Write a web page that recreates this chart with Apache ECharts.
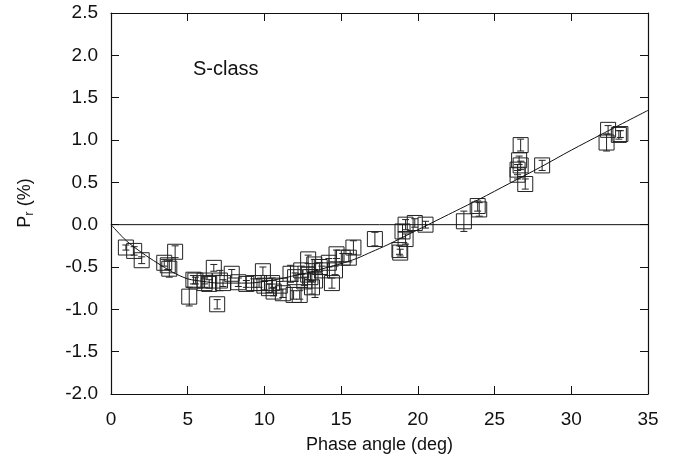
<!DOCTYPE html>
<html>
<head>
<meta charset="utf-8">
<script src="https://cdn.jsdelivr.net/npm/echarts@6/dist/echarts.min.js"></script>
<style>
  html, body { margin: 0; padding: 0; background: #fff; }
  #chart { width: 685px; height: 461px; }
</style>
</head>
<body>
<div id="chart"></div>
<script>
const angle = [
  0.97, 1.51, 2.0, 4.18, 3.47, 3.7, 3.8, 5.37, 5.1, 5.5,
  6.1, 6.7, 6.92, 6.1, 7.1, 7.87, 7.3, 8.82, 9.3, 9.9,
  9.65, 10.5, 10.6, 11.7, 11.9, 11.2, 12.3, 12.4, 12.85, 13.25,
  13.6, 13.3, 13.1, 12.85, 13.75, 14.4, 14.6, 14.7, 15.1, 15.5,
  15.8, 17.2, 18.8, 18.85, 19.2, 19.2, 19.8, 20.5, 23.0, 23.9,
  24.0, 26.7, 26.6, 26.5, 26.5, 26.7, 27.0, 28.1, 32.4, 32.3,
  33.1, 33.2, 8.3, 10.0, 10.3, 11.0, 12.0, 12.6, 13.0, 14.2,
  19.0, 6.4
];
const polar = [
  -0.27, -0.31, -0.42, -0.32, -0.45, -0.48, -0.52, -0.65, -0.85, -0.66,
  -0.69, -0.51, -0.94, -0.66, -0.66, -0.58, -0.69, -0.70, -0.69, -0.55,
  -0.69, -0.69, -0.79, -0.58, -0.83, -0.81, -0.83, -0.54, -0.41, -0.47,
  -0.50, -0.66, -0.74, -0.59, -0.54, -0.69, -0.54, -0.35, -0.39, -0.39,
  -0.27, -0.17, -0.30, -0.33, -0.17, 0.00, 0.02, 0.00, 0.04, 0.22,
  0.18, 0.94, 0.76, 0.65, 0.59, 0.70, 0.48, 0.70, 1.12, 0.97,
  1.06, 1.07, -0.68, -0.72, -0.75, -0.72, -0.62, -0.67, -0.62, -0.45,
  -0.08, -0.70
];
const sigma = [
  0.03, 0.05, 0.04, 0.07, 0.04, 0.05, 0.10, 0.05, 0.11, 0.04,
  0.05, 0.04, 0.055, 0.04, 0.12, 0.05, 0.04, 0.04, 0.05, 0.05,
  0.05, 0.06, 0.05, 0.10, 0.05, 0.05, 0.05, 0.05, 0.05, 0.06,
  0.05, 0.20, 0.08, 0.06, 0.05, 0.06, 0.05, 0.05, 0.05, 0.05,
  0.08, 0.08, 0.05, 0.04, 0.06, 0.06, 0.05, 0.04, 0.12, 0.06,
  0.08, 0.07, 0.05, 0.06, 0.05, 0.05, 0.06, 0.06, 0.05, 0.10,
  0.05, 0.04, 0.05, 0.05, 0.05, 0.05, 0.05, 0.05, 0.05, 0.05,
  0.08, 0.05
];

// fitted phase curve
const fitAngle = [0, 1, 2, 3, 4, 5, 6, 7, 8, 9, 10, 11, 12, 13, 14, 15, 16, 17, 18, 19, 20, 21, 22, 23, 24, 26, 28, 30, 32, 35];
const fitPolar = [0, -0.19, -0.33, -0.45, -0.56, -0.64, -0.67, -0.69, -0.69, -0.69, -0.67, -0.64, -0.60, -0.56, -0.51, -0.46, -0.40, -0.32, -0.24, -0.15, -0.06, 0.03, 0.12, 0.21, 0.30, 0.49, 0.68, 0.88, 1.07, 1.35];

const points = angle.map((a, i) => [a, polar[i], sigma[i]]);
const fit = fitAngle.map((a, i) => [a, fitPolar[i]]);

const ink = "#111";
const font = "Liberation Sans, Arial, Helvetica, sans-serif";

const chart = echarts.init(document.getElementById("chart"), null, { renderer: "canvas" });

const tickCommon = {
  axisLine: { show: true, onZero: false, lineStyle: { color: ink, width: 1.2 } },
  axisTick: { show: true, inside: true, length: 8, lineStyle: { color: ink, width: 1 } },
  splitLine: { show: false },
};

chart.setOption({
  animation: false,
  backgroundColor: "#fff",
  grid: { left: 111, right: 37, top: 13, bottom: 67 },
  xAxis: [
    {
      type: "value", min: 0, max: 35, interval: 5,
      ...tickCommon,
      axisLabel: { color: ink, fontSize: 19, fontFamily: font, margin: 16 },
      name: "Phase angle (deg)",
      nameLocation: "middle",
      nameGap: 42,
      nameTextStyle: { color: ink, fontSize: 18, fontFamily: font },
    },
    {
      type: "value", min: 0, max: 35, interval: 5, position: "top",
      ...tickCommon,
      axisLabel: { show: false },
    },
  ],
  yAxis: [
    {
      type: "value", min: -2, max: 2.5, interval: 0.5,
      ...tickCommon,
      axisLabel: {
        color: ink, fontSize: 19, fontFamily: font, margin: 13,
        formatter: (v) => v.toFixed(1),
      },
    },
    {
      type: "value", min: -2, max: 2.5, interval: 0.5, position: "right",
      ...tickCommon,
      axisLabel: { show: false },
    },
  ],
  graphic: [
    {
      type: "text",
      left: 193, top: 59,
      style: { text: "S-class", fill: ink, font: "20px " + font },
    },
    {
      type: "text",
      x: 25, y: 203,
      rotation: Math.PI / 2,
      style: {
        text: "{a|P}{s|r}{a| (%)}",
        align: "center",
        verticalAlign: "middle",
        rich: {
          a: { fill: ink, fontSize: 18, fontFamily: font },
          s: { fill: ink, fontSize: 13, fontFamily: font, verticalAlign: "bottom", padding: [8, 0, 0, 0] },
        },
      },
    },
  ],
  series: [
    {
      type: "line",
      data: [[0, 0], [35, 0]],
      symbol: "none",
      lineStyle: { color: ink, width: 1 },
      silent: true,
    },
    {
      type: "line",
      data: fit,
      symbol: "none",
      smooth: 0.3,
      lineStyle: { color: ink, width: 1 },
      silent: true,
    },
    {
      type: "custom",
      data: points,
      renderItem: (params, api) => {
        const x = api.value(0), y = api.value(1), e = api.value(2);
        const c = api.coord([x, y]);
        const lo = api.coord([x, y - e]);
        const hi = api.coord([x, y + e]);
        const h = 7.5, cap = 3.5;
        const style = { stroke: "#222", lineWidth: 1, fill: null };
        return {
          type: "group",
          children: [
            { type: "rect", shape: { x: c[0] - h, y: c[1] - h, width: 2 * h, height: 2 * h }, style },
            { type: "line", shape: { x1: c[0], y1: lo[1], x2: c[0], y2: hi[1] }, style },
            { type: "line", shape: { x1: c[0] - cap, y1: lo[1], x2: c[0] + cap, y2: lo[1] }, style },
            { type: "line", shape: { x1: c[0] - cap, y1: hi[1], x2: c[0] + cap, y2: hi[1] }, style },
          ],
        };
      },
    },
  ],
});
</script>
</body>
</html>
